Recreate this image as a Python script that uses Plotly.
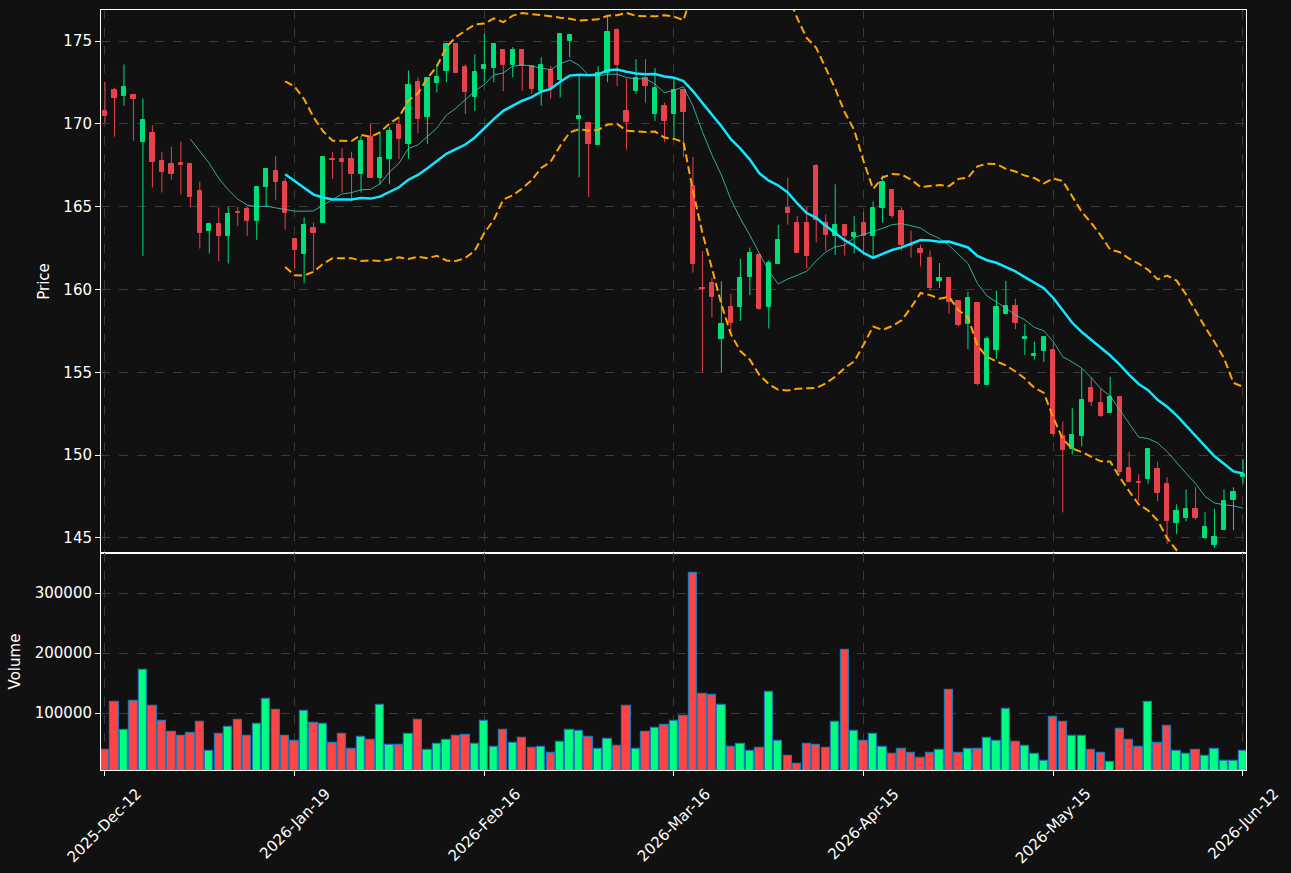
import plotly.graph_objects as go
import pandas as pd

# ---------------- data ----------------
opens = [170.76, 172.04, 171.69, 171.73, 168.90, 169.44, 167.73, 167.56, 167.62, 167.56,
         165.92, 163.52, 163.93, 163.22, 164.70, 164.84, 164.13, 166.16, 167.13, 166.52,
         163.02, 162.14, 163.74, 164.02, 167.90, 167.86, 167.86, 166.98, 169.22, 166.76,
         167.88, 169.92, 168.79, 172.51, 170.41, 172.49, 173.22, 174.82, 173.42, 171.60,
         173.33, 173.37, 174.45, 173.55, 174.45, 173.50, 171.99, 173.24, 172.62, 174.98,
         170.30, 170.03, 168.73, 173.05, 175.67, 170.76, 171.97, 172.75, 170.60, 171.06,
         170.60, 172.03, 166.22, 160.10, 160.37, 157.00, 158.96, 158.96, 160.78, 162.08,
         158.97, 161.54, 164.95, 164.04, 164.04, 167.43, 164.04, 163.22, 163.87, 163.17,
         164.04, 163.22, 164.95, 166.03, 164.71, 162.70, 162.42, 161.88, 160.50, 160.67,
         159.28, 157.89, 159.16, 154.21, 156.37, 158.51, 159.00, 157.00, 156.00, 156.30,
         156.37, 151.16, 150.38, 151.16, 154.04, 153.14, 152.57, 153.50, 149.22, 148.40,
         148.53, 149.18, 148.27, 145.89, 146.23, 146.76, 145.00, 144.58, 145.50, 147.28,
         148.68]
highs = [172.55, 172.19, 173.59, 171.73, 171.54, 169.92, 168.32, 168.62, 168.92, 167.56,
         166.51, 164.04, 164.95, 164.99, 164.99, 164.99, 166.16, 167.26, 168.04, 166.76,
         163.02, 164.35, 164.04, 168.03, 168.32, 168.53, 168.32, 169.27, 170.03, 169.44,
         169.81, 170.35, 173.22, 172.81, 172.77, 173.59, 174.82, 174.82, 173.59, 174.20,
         175.43, 174.82, 174.45, 174.63, 174.45, 173.50, 174.02, 173.50, 175.43, 175.37,
         172.94, 170.03, 173.48, 176.50, 175.76, 172.73, 173.91, 173.91, 173.37, 171.28,
         172.77, 172.03, 168.01, 162.32, 160.72, 160.50, 159.74, 161.86, 162.53, 162.08,
         161.76, 163.91, 166.74, 164.45, 164.99, 167.58, 164.52, 166.35, 163.87, 164.45,
         164.69, 165.32, 166.89, 166.03, 164.95, 163.55, 162.70, 162.36, 161.60, 160.67,
         159.28, 159.87, 159.16, 157.17, 159.93, 160.52, 159.44, 157.92, 156.85, 157.15,
         156.74, 152.03, 152.85, 155.22, 154.69, 154.04, 154.73, 153.50, 150.21, 148.85,
         150.36, 149.61, 148.68, 147.02, 147.93, 148.06, 146.55, 146.76, 147.94, 148.06,
         149.76]
lows = [170.03, 169.23, 171.09, 168.99, 162.03, 166.16, 165.86, 166.63, 165.73, 164.95,
        162.47, 162.17, 161.72, 161.57, 163.82, 163.24, 163.00, 164.99, 165.42, 163.61,
        161.27, 160.37, 161.13, 164.02, 166.68, 165.86, 165.32, 165.86, 166.74, 166.35,
        166.35, 167.86, 167.90, 169.44, 168.79, 171.90, 172.51, 173.09, 170.60, 170.78,
        172.51, 172.51, 171.97, 172.81, 171.99, 171.82, 171.09, 171.52, 171.60, 174.02,
        166.78, 165.59, 168.73, 172.51, 172.29, 168.44, 171.82, 171.28, 170.17, 168.92,
        169.16, 168.01, 161.02, 155.00, 158.32, 155.00, 157.39, 158.10, 159.65, 158.79,
        157.65, 161.54, 163.91, 162.20, 161.27, 162.84, 162.36, 162.10, 162.06, 162.17,
        162.06, 161.90, 164.04, 164.30, 162.36, 161.92, 161.38, 159.93, 160.09, 158.53,
        157.78, 156.41, 154.21, 154.21, 155.81, 158.51, 157.60, 156.05, 155.77, 155.62,
        151.12, 146.54, 150.04, 150.52, 152.96, 152.31, 152.57, 148.85, 148.36, 147.23,
        148.27, 147.23, 144.64, 145.25, 146.00, 146.10, 144.92, 144.41, 145.50, 145.46,
        148.27]
closes = [170.46, 171.58, 172.21, 171.52, 170.22, 167.69, 167.08, 166.98, 167.52, 165.57,
          163.42, 163.93, 163.22, 164.54, 164.60, 164.13, 166.16, 167.26, 166.48, 164.62,
          162.37, 163.87, 163.41, 168.03, 167.80, 167.69, 166.98, 168.94, 166.74, 167.93,
          169.55, 169.10, 172.33, 170.30, 172.77, 172.81, 174.82, 173.09, 171.90, 173.11,
          173.55, 174.82, 173.55, 174.45, 173.50, 172.12, 173.55, 172.16, 175.43, 175.37,
          170.45, 168.77, 173.05, 175.54, 173.55, 170.09, 172.75, 172.27, 172.16, 170.17,
          172.03, 170.71, 161.54, 160.02, 159.53, 157.93, 157.99, 160.72, 162.19, 158.84,
          161.58, 162.96, 164.62, 162.20, 162.01, 164.21, 163.28, 163.87, 163.22, 163.43,
          163.22, 164.95, 166.52, 164.41, 162.68, 162.65, 162.18, 160.09, 160.67, 159.23,
          157.87, 159.46, 154.32, 157.04, 158.96, 159.00, 157.99, 157.15, 156.13, 157.15,
          151.29, 150.32, 151.23, 153.32, 153.18, 152.36, 153.50, 149.00, 148.36, 148.33,
          150.36, 147.73, 146.00, 146.63, 146.76, 146.23, 145.66, 145.06, 147.23, 147.76,
          148.85]
volumes = [38300, 118300, 71700, 120000, 171700, 111700, 86700, 68300, 61700, 66700,
           85000, 36100, 65000, 76700, 88300, 61700, 81700, 123300, 105000, 61700,
           53300, 103300, 83300, 81700, 50000, 65000, 40000, 60000, 55000, 113300,
           46700, 46700, 65000, 88300, 38300, 48300, 55000, 61700, 63300, 48300,
           86700, 43300, 71700, 50000, 58300, 41700, 43300, 33300, 51700, 71700,
           70000, 60000, 40000, 56700, 45000, 111700, 40000, 68300, 75000, 80000,
           86700, 95000, 333300, 131700, 130000, 113300, 43300, 48300, 36700, 41700,
           135000, 53300, 28300, 15000, 48300, 46700, 41700, 85000, 205000, 70000,
           53300, 65000, 43300, 31700, 40000, 33300, 25000, 33300, 38300, 138300,
           33300, 40000, 40000, 58300, 53300, 106700, 51700, 45000, 31700, 19400,
           93300, 85000, 61700, 61700, 38300, 33300, 18300, 73300, 55000, 43300,
           118300, 50000, 78300, 36700, 31700, 38300, 28300, 40000, 19400, 19400, 36700]

tick_positions = [0, 20, 40, 60, 80, 100, 120]
tick_labels = ["2025-Dec-12", "2026-Jan-19", "2026-Feb-16", "2026-Mar-16",
               "2026-Apr-15", "2026-May-15", "2026-Jun-12"]

# ---------------- derived indicators ----------------
n = len(closes)
idx = list(range(n))
cs = pd.Series(closes)
ma10 = cs.rolling(10).mean()
ma20 = cs.rolling(20).mean()
sd20 = cs.rolling(20).std(ddof=0)
bb_up = ma20 + 2 * sd20
bb_lo = ma20 - 2 * sd20

# ---------------- styles ----------------
BG = "#111111"
GRID = "#3a3a3a"
UP_C, DN_C = "#00e07a", "#e8424a"
UP_V, DN_V = "#00ff7f", "#ff4444"
FONT = "DejaVu Sans"

up = [c >= o for o, c in zip(opens, closes)]

fig = go.Figure()

# wicks
for is_up, col in [(True, UP_C), (False, DN_C)]:
    wx, wy = [], []
    for i in idx:
        if up[i] == is_up:
            wx += [i, i, None]
            wy += [lows[i], highs[i], None]
    fig.add_trace(go.Scatter(x=wx, y=wy, mode="lines", line=dict(color=col, width=1),
                             hoverinfo="skip", showlegend=False, xaxis="x", yaxis="y"))

# bodies
for is_up, col in [(True, UP_C), (False, DN_C)]:
    bx = [i for i in idx if up[i] == is_up]
    base = [min(opens[i], closes[i]) for i in bx]
    hgt = [abs(closes[i] - opens[i]) for i in bx]
    fig.add_trace(go.Bar(x=bx, y=hgt, base=base, width=0.45,
                         marker=dict(color=col, line=dict(color=col, width=1)),
                         showlegend=False, xaxis="x", yaxis="y"))

# indicator lines
fig.add_trace(go.Scatter(x=idx, y=ma10, mode="lines", line=dict(color="#40d0c0", width=1),
                         opacity=0.8, showlegend=False, xaxis="x", yaxis="y"))
fig.add_trace(go.Scatter(x=idx, y=ma20, mode="lines", line=dict(color="#10e8ff", width=2.5),
                         showlegend=False, xaxis="x", yaxis="y"))
for band in (bb_up, bb_lo):
    fig.add_trace(go.Scatter(x=idx, y=band, mode="lines",
                             line=dict(color="#ffa500", width=2, dash="8px,4px"),
                             showlegend=False, xaxis="x", yaxis="y"))

# volume
vcol = [UP_V if u else DN_V for u in up]
fig.add_trace(go.Bar(x=idx, y=volumes, width=0.88,
                     marker=dict(color=vcol, line=dict(color="#1f77b4", width=1.2)),
                     showlegend=False, xaxis="x2", yaxis="y2"))

axis_common = dict(showline=True, linecolor="white", linewidth=1, mirror=True,
                   showgrid=True, gridcolor=GRID, griddash="dash", gridwidth=1,
                   ticks="outside", tickcolor="white", ticklen=5,
                   tickfont=dict(color="white", size=15, family=FONT), zeroline=False)

xr = [-0.42, 120.32]
fig.update_layout(
    width=1291, height=873,
    paper_bgcolor=BG, plot_bgcolor=BG,
    margin=dict(l=101, r=45, t=10, b=103),
    bargap=0, barmode="overlay",
    font=dict(family=FONT, color="white", size=15),
    xaxis=dict(domain=[0, 1], anchor="y", range=xr, tickvals=tick_positions,
               showticklabels=False, **axis_common),
    yaxis=dict(domain=[0.2855, 1], anchor="x", range=[144.09, 176.875],
               tickvals=[145, 150, 155, 160, 165, 170, 175],
               title=dict(text="Price", font=dict(size=15, color="white", family=FONT), standoff=10),
               **axis_common),
    xaxis2=dict(domain=[0, 1], anchor="y2", range=xr, tickvals=tick_positions,
                showticklabels=False, matches="x", **axis_common),
    yaxis2=dict(domain=[0, 0.2855], anchor="x2", range=[5000, 367000],
                tickvals=[100000, 200000, 300000], ticktext=["100000", "200000", "300000"],
                title=dict(text="Volume", font=dict(size=15, color="white", family=FONT), standoff=10),
                **axis_common),
)

# rotated, centred date labels (matplotlib-style)
for pos, lab in zip(tick_positions, tick_labels):
    fig.add_annotation(x=pos, xref="x2", y=0, yref="paper", yshift=-12,
                       text=lab, textangle=-45, showarrow=False,
                       xanchor="center", yanchor="top",
                       font=dict(color="white", size=15, family=FONT))

fig.write_html("out.html")
